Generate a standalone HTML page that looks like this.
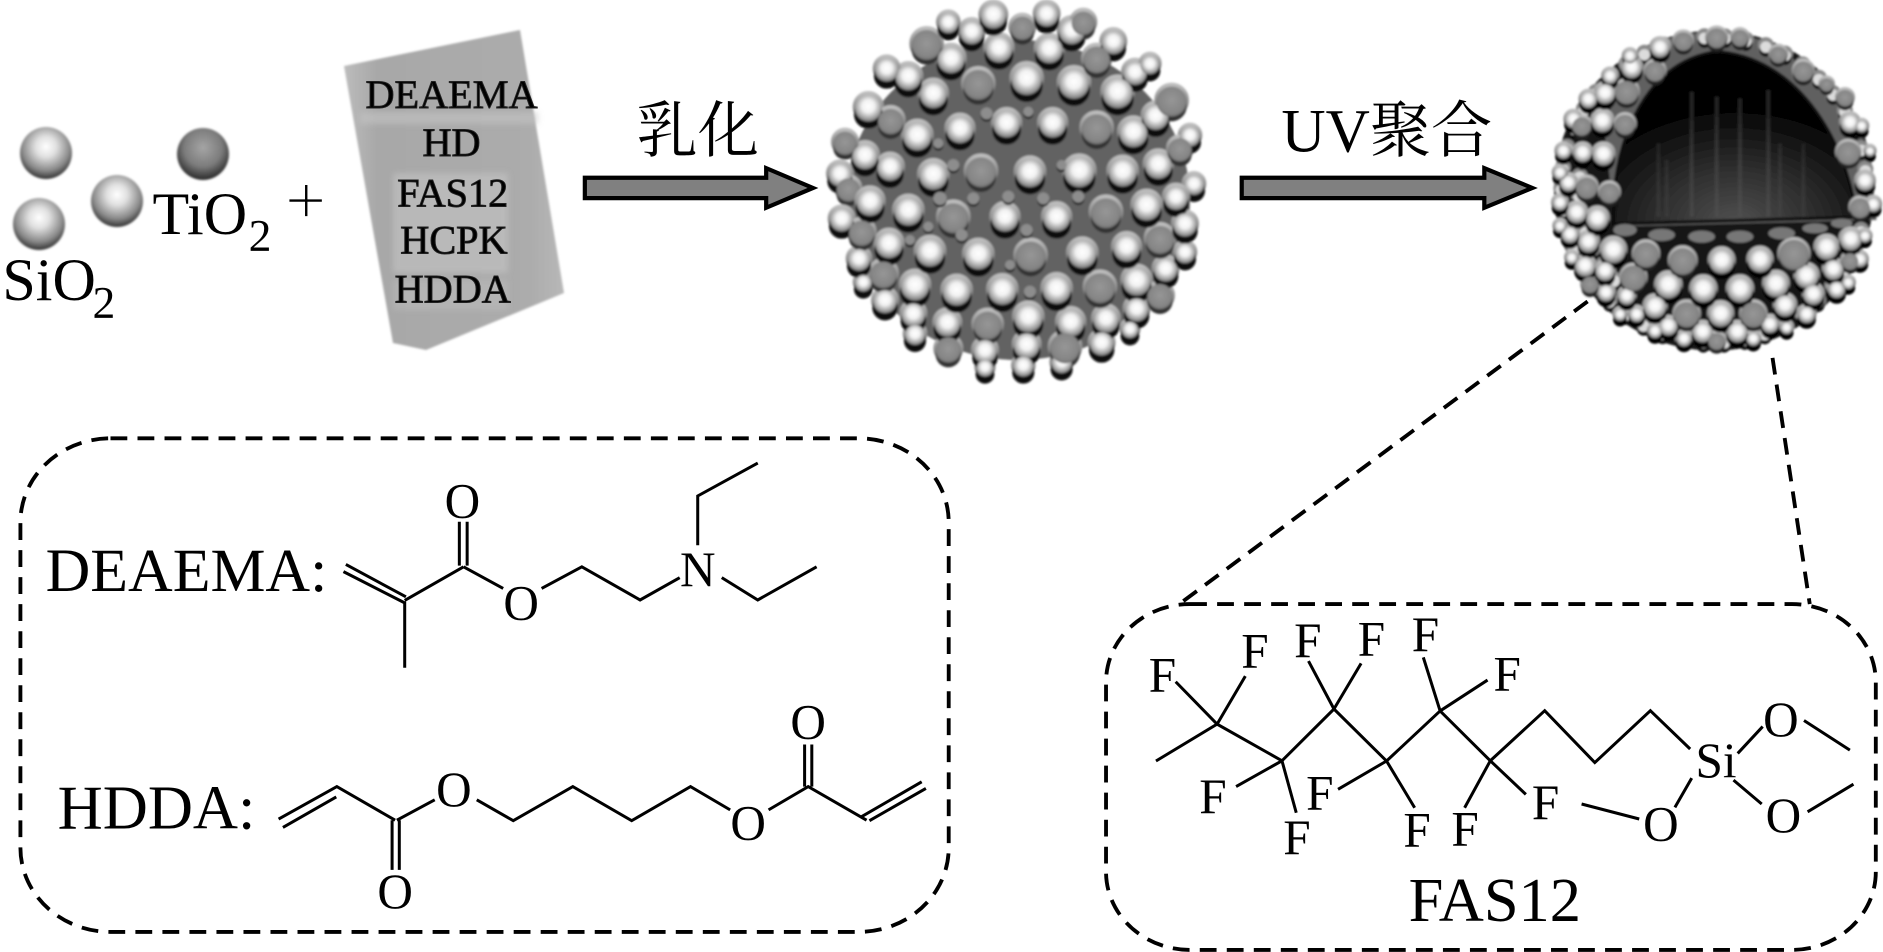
<!DOCTYPE html>
<html><head><meta charset="utf-8"><style>
html,body{margin:0;padding:0;background:#fff;width:1883px;height:952px;overflow:hidden}
svg{display:block}
text{font-family:"Liberation Serif","Noto Serif CJK SC",serif;fill:#000}
.m{fill:none;stroke:#000;stroke-width:2.5;stroke-linejoin:miter}
.d{fill:none;stroke:#000;stroke-width:3.2;stroke-dasharray:14 8.500}
.a{font-size:41px;text-anchor:middle}
.b{font-size:33.500px;text-anchor:middle;stroke:#222;stroke-width:.8}
</style></head><body>
<svg width="1883" height="952" viewBox="0 0 1883 952" xmlns="http://www.w3.org/2000/svg">
<defs>
<radialGradient id="bb" cx=".5" cy=".42" r=".58"><stop offset="0" stop-color="#fff"/><stop offset=".4" stop-color="#f2f2f2"/><stop offset=".75" stop-color="#adadad"/><stop offset="1" stop-color="#747474"/></radialGradient>
<radialGradient id="gb" cx=".5" cy=".45" r=".55"><stop offset="0" stop-color="#969696"/><stop offset=".8" stop-color="#858585"/><stop offset="1" stop-color="#6e6e6e"/></radialGradient>
<linearGradient id="ha" x1="0" y1="0" x2="0" y2="1"><stop offset="0" stop-color="#bdbdbd"/><stop offset=".6" stop-color="#8a8a8a"/><stop offset="1" stop-color="#555"/></linearGradient>
<radialGradient id="sb" cx=".5" cy=".38" r=".66"><stop offset="0" stop-color="#fff"/><stop offset=".3" stop-color="#e0e0e0"/><stop offset=".7" stop-color="#888"/><stop offset="1" stop-color="#1c1c1c"/></radialGradient>
<radialGradient id="sc" cx=".5" cy=".38" r=".66"><stop offset="0" stop-color="#a5a5a5"/><stop offset=".55" stop-color="#7c7c7c"/><stop offset="1" stop-color="#1c1c1c"/></radialGradient>
<radialGradient id="in" cx=".5" cy="1" r=".9"><stop offset="0" stop-color="#505050"/><stop offset=".4" stop-color="#2a2a2a"/><stop offset=".72" stop-color="#060606"/><stop offset="1" stop-color="#000"/></radialGradient>
<linearGradient id="bo" x1="0" y1="0" x2="1" y2="0"><stop offset="0" stop-color="#bcbcbc"/><stop offset=".15" stop-color="#a8a8a8"/><stop offset=".85" stop-color="#acacac"/><stop offset="1" stop-color="#b8b8b8"/></linearGradient>
<filter id="f" x="-5%" y="-5%" width="110%" height="110%"><feGaussianBlur stdDeviation="1.1"/></filter>
<filter id="f2" x="-5%" y="-5%" width="110%" height="110%"><feGaussianBlur stdDeviation="3"/></filter>

<g id="A1">
<circle cx="455" cy="68" r="35"/><circle cx="537" cy="118" r="40"/><circle cx="688" cy="120" r="40"/><circle cx="520" cy="18" r="38"/><circle cx="680" cy="15" r="35"/><circle cx="755" cy="65" r="38"/><circle cx="393" cy="150" r="40"/><circle cx="265" cy="203" r="38"/><circle cx="200" cy="180" r="35"/><circle cx="340" cy="255" r="40"/><circle cx="620" cy="210" r="45"/><circle cx="762" cy="222" r="45"/><circle cx="893" cy="250" r="45"/><circle cx="945" cy="190" r="35"/><circle cx="990" cy="165" r="28"/><circle cx="880" cy="98" r="35"/><circle cx="145" cy="295" r="40"/><circle cx="560" cy="343" r="40"/><circle cx="698" cy="343" r="40"/><circle cx="420" cy="360" r="40"/><circle cx="292" cy="380" r="42"/><circle cx="940" cy="370" r="42"/><circle cx="1007" cy="322" r="38"/><circle cx="135" cy="440" r="38"/><circle cx="210" cy="475" r="38"/><circle cx="340" cy="498" r="42"/><circle cx="630" cy="490" r="42"/><circle cx="778" cy="487" r="45"/><circle cx="908" cy="488" r="42"/><circle cx="1015" cy="467" r="40"/><circle cx="1122" cy="525" r="30"/><circle cx="60" cy="495" r="35"/><circle cx="385" cy="40" r="30"/><circle cx="1110" cy="380" r="30"/>
</g>
<g id="A2">
<circle cx="607" cy="55" r="35"/><circle cx="320" cy="105" r="45"/><circle cx="475" cy="225" r="45"/><circle cx="830" cy="150" r="40"/><circle cx="212" cy="335" r="38"/><circle cx="830" cy="358" r="45"/><circle cx="483" cy="487" r="45"/><circle cx="75" cy="400" r="35"/><circle cx="790" cy="40" r="35"/><circle cx="1055" cy="275" r="45"/><circle cx="1080" cy="420" r="35"/><circle cx="85" cy="540" r="35"/>
</g>
<g id="A3">
<circle cx="500" cy="310" r="18"/><circle cx="625" cy="305" r="15"/><circle cx="400" cy="465" r="18"/><circle cx="725" cy="465" r="15"/><circle cx="355" cy="400" r="15"/>
</g>
<g id="B1">
<circle cx="150" cy="38" r="40"/><circle cx="265" cy="65" r="42"/><circle cx="555" cy="85" r="40"/><circle cx="710" cy="85" r="40"/><circle cx="980" cy="50" r="42"/><circle cx="1068" cy="25" r="35"/><circle cx="65" cy="90" r="35"/><circle cx="1095" cy="105" r="35"/><circle cx="207" cy="165" r="40"/><circle cx="330" cy="188" r="42"/><circle cx="475" cy="197" r="42"/><circle cx="787" cy="193" r="42"/><circle cx="920" cy="175" r="40"/><circle cx="1095" cy="190" r="30"/><circle cx="117" cy="210" r="33"/><circle cx="285" cy="290" r="42"/><circle cx="410" cy="305" r="42"/><circle cx="547" cy="303" r="42"/><circle cx="710" cy="300" r="42"/><circle cx="950" cy="275" r="42"/><circle cx="1037" cy="240" r="35"/><circle cx="130" cy="280" r="25"/><circle cx="195" cy="335" r="35"/><circle cx="280" cy="375" r="35"/><circle cx="382" cy="402" r="38"/><circle cx="625" cy="385" r="42"/><circle cx="752" cy="400" r="40"/><circle cx="858" cy="390" r="38"/><circle cx="950" cy="360" r="35"/><circle cx="285" cy="435" r="30"/><circle cx="495" cy="485" r="35"/><circle cx="620" cy="468" r="38"/><circle cx="845" cy="462" r="35"/><circle cx="930" cy="420" r="25"/><circle cx="610" cy="530" r="30"/><circle cx="725" cy="520" r="30"/><circle cx="495" cy="535" r="25"/>
</g>
<g id="B2">
<circle cx="400" cy="85" r="45"/><circle cx="858" cy="70" r="45"/><circle cx="125" cy="130" r="38"/><circle cx="1020" cy="150" r="42"/><circle cx="632" cy="200" r="45"/><circle cx="190" cy="255" r="40"/><circle cx="840" cy="295" r="45"/><circle cx="1020" cy="320" r="38"/><circle cx="503" cy="407" r="42"/><circle cx="385" cy="480" r="38"/><circle cx="735" cy="475" r="45"/>
</g>
<g id="B3">
<circle cx="460" cy="25" r="18"/><circle cx="565" cy="20" r="18"/><circle cx="670" cy="25" r="18"/><circle cx="775" cy="20" r="18"/><circle cx="360" cy="25" r="20"/><circle cx="325" cy="110" r="15"/><circle cx="620" cy="120" r="18"/><circle cx="425" cy="135" r="18"/><circle cx="570" cy="225" r="15"/><circle cx="630" cy="305" r="18"/><circle cx="270" cy="150" r="15"/>
</g>
<g id="C1">
<circle cx="275" cy="145" r="30"/><circle cx="210" cy="170" r="22"/><circle cx="195" cy="222" r="30"/><circle cx="145" cy="240" r="25"/><circle cx="187" cy="305" r="32"/><circle cx="100" cy="300" r="25"/><circle cx="190" cy="405" r="32"/><circle cx="128" cy="400" r="27"/><circle cx="70" cy="395" r="22"/><circle cx="85" cy="490" r="25"/><circle cx="60" cy="460" r="20"/><circle cx="110" cy="580" r="30"/><circle cx="60" cy="550" r="22"/><circle cx="172" cy="598" r="33"/><circle cx="145" cy="668" r="30"/><circle cx="90" cy="645" r="25"/><circle cx="60" cy="620" r="18"/><circle cx="220" cy="693" r="37"/><circle cx="135" cy="740" r="30"/><circle cx="195" cy="755" r="28"/><circle cx="95" cy="715" r="18"/><circle cx="545" cy="725" r="37"/><circle cx="660" cy="722" r="36"/><circle cx="860" cy="685" r="35"/><circle cx="932" cy="660" r="32"/><circle cx="800" cy="770" r="35"/><circle cx="880" cy="750" r="30"/><circle cx="385" cy="798" r="38"/><circle cx="490" cy="810" r="38"/><circle cx="600" cy="810" r="38"/><circle cx="708" cy="795" r="37"/><circle cx="345" cy="862" r="33"/><circle cx="542" cy="885" r="36"/><circle cx="735" cy="858" r="32"/><circle cx="820" cy="825" r="30"/><circle cx="890" cy="810" r="25"/><circle cx="198" cy="820" r="25"/><circle cx="260" cy="830" r="25"/><circle cx="800" cy="885" r="25"/><circle cx="240" cy="885" r="18"/><circle cx="290" cy="885" r="22"/><circle cx="385" cy="920" r="27"/><circle cx="488" cy="938" r="30"/><circle cx="592" cy="938" r="30"/><circle cx="432" cy="958" r="22"/><circle cx="640" cy="958" r="20"/><circle cx="690" cy="915" r="25"/><circle cx="740" cy="925" r="18"/><circle cx="930" cy="310" r="28"/><circle cx="975" cy="485" r="28"/><circle cx="1000" cy="555" r="22"/><circle cx="975" cy="650" r="18"/><circle cx="965" cy="320" r="18"/><circle cx="990" cy="395" r="15"/><circle cx="360" cy="85" r="28"/><circle cx="270" cy="110" r="20"/><circle cx="960" cy="720" r="22"/><circle cx="925" cy="790" r="18"/><circle cx="345" cy="935" r="20"/>
</g>
<g id="C2">
<circle cx="260" cy="218" r="35"/><circle cx="255" cy="315" r="30"/><circle cx="125" cy="320" r="28"/><circle cx="140" cy="505" r="32"/><circle cx="208" cy="520" r="30"/><circle cx="318" cy="705" r="38"/><circle cx="428" cy="725" r="40"/><circle cx="762" cy="705" r="45"/><circle cx="280" cy="775" r="38"/><circle cx="440" cy="885" r="38"/><circle cx="640" cy="885" r="38"/><circle cx="345" cy="155" r="30"/><circle cx="925" cy="400" r="35"/><circle cx="960" cy="565" r="30"/><circle cx="930" cy="725" r="25"/><circle cx="530" cy="965" r="25"/><circle cx="150" cy="795" r="25"/><circle cx="430" cy="65" r="28"/><circle cx="530" cy="55" r="30"/><circle cx="600" cy="55" r="25"/><circle cx="715" cy="105" r="25"/><circle cx="790" cy="155" r="30"/><circle cx="915" cy="235" r="25"/><circle cx="860" cy="195" r="20"/>
</g>
</defs>

<!-- big sphere -->
<g filter="url(#f)">
<ellipse cx="1018" cy="200" rx="172" ry="160" fill="#626262"/>
<g transform="translate(820,10) scale(.3333)">
<use href="#A1" y="-5" fill="url(#ha)" stroke="url(#ha)" stroke-width="14"/>
<use href="#A2" y="-5" fill="url(#ha)" stroke="url(#ha)" stroke-width="14"/>
<use href="#A1" y="18" fill="#0a0a0a" stroke="#0a0a0a" stroke-width="6"/>
<use href="#A2" y="14" fill="#333"/>
<use href="#A3" y="7" fill="#222"/>
<use href="#A1" fill="url(#bb)"/>
<use href="#A2" fill="url(#gb)"/>
<use href="#A3" fill="#8d8d8d"/>
</g>
<g transform="translate(820,190) scale(.3333)">
<use href="#B1" y="-5" fill="url(#ha)" stroke="url(#ha)" stroke-width="14"/>
<use href="#B2" y="-5" fill="url(#ha)" stroke="url(#ha)" stroke-width="14"/>
<use href="#B1" y="18" fill="#0a0a0a" stroke="#0a0a0a" stroke-width="6"/>
<use href="#B2" y="14" fill="#333"/>
<use href="#B3" y="7" fill="#222"/>
<use href="#B1" fill="url(#bb)"/>
<use href="#B2" fill="url(#gb)"/>
<use href="#B3" fill="#8d8d8d"/>
</g>
</g>

<!-- small spheres -->
<g filter="url(#f)">
<circle cx="46" cy="153" r="26" fill="url(#sb)"/>
<circle cx="203" cy="154" r="26" fill="url(#sc)"/>
<circle cx="117" cy="201" r="26" fill="url(#sb)"/>
<circle cx="39" cy="224" r="26" fill="url(#sb)"/>
</g>

<!-- bottle -->
<polygon points="344,66 520,30 564,293 426,350 393,343" fill="url(#bo)" filter="url(#f)"/>
<g fill="#c6c6c6" opacity=".55" filter="url(#f2)">
<rect x="360" y="112" width="178" height="12"/><rect x="393" y="173" width="115" height="100"/><rect x="393" y="280" width="115" height="30" opacity=".6"/>
</g>

<!-- hemisphere -->
<g filter="url(#f)">
<g transform="translate(1540,20) scale(.3333)">
<circle cx="522" cy="512" r="480" fill="#141414"/>
<path d="M340,70 Q520,0 720,80 L960,300 L1010,600 L225,620 L190,300Z" fill="#606060"/>
<path d="M222,612 C210,400 300,125 530,95 C760,110 915,340 950,592 Z" fill="url(#in)" stroke="#0c0c0c" stroke-width="10"/>
<g stroke="#5a5a5a" stroke-width="12" opacity=".35">
<path d="M455,215V590M530,230V590M600,235V590M685,210V590"/>
<path d="M355,370V590M720,370V590M790,370V590M380,420V590" opacity=".6"/>
</g>
<g fill="none" stroke-linecap="round" stroke-dasharray="0 62.600">
<circle cx="522" cy="506" r="458" stroke="#8a8a8a" stroke-width="48"/>
<circle cx="522" cy="522" r="458" stroke="#0a0a0a" stroke-width="38"/>
<circle cx="522" cy="512" r="458" stroke="#dcdcdc" stroke-width="34"/>
</g>
<g fill="none" stroke-linecap="round" stroke-dasharray="0 56">
<path transform="translate(0,-4)" d="M261.700,822A405,405 0 0 1 141.400,373.500" stroke="#8a8a8a" stroke-width="50"/>
<path transform="translate(0,12)" d="M261.700,822A405,405 0 0 1 141.400,373.500" stroke="#0a0a0a" stroke-width="40"/>
<path d="M261.700,822A405,405 0 0 1 141.400,373.500" stroke="#dcdcdc" stroke-width="36"/>
</g>
<use href="#C1" y="-4" fill="url(#ha)" stroke="url(#ha)" stroke-width="10"/>
<use href="#C2" y="-4" fill="url(#ha)" stroke="url(#ha)" stroke-width="10"/>
<use href="#C1" y="14" fill="#060606" stroke="#060606" stroke-width="5"/>
<use href="#C2" y="11" fill="#222"/>
<use href="#C1" fill="url(#bb)"/>
<use href="#C2" fill="url(#gb)"/>
<g fill="#777">
<ellipse cx="255" cy="630" rx="35" ry="18"/><ellipse cx="365" cy="645" rx="40" ry="18"/><ellipse cx="485" cy="650" rx="40" ry="18"/><ellipse cx="600" cy="650" rx="40" ry="18"/><ellipse cx="725" cy="640" rx="40" ry="18"/><ellipse cx="825" cy="625" rx="38" ry="15"/><ellipse cx="905" cy="610" rx="32" ry="14"/>
</g>
</g>
</g>

<!-- diagram layer -->
<g transform="scale(1.2009)">
<text x="127" y="195" font-size="50">TiO</text><text x="207" y="209" font-size="38">2</text>
<text x="2" y="250" font-size="50">SiO</text><text x="77" y="265" font-size="38">2</text>
<path d="M241,167H268M255,154V180" stroke="#000" stroke-width="2" fill="none"/>

<text class="b" x="376" y="90">DEAEMA</text>
<text class="b" x="376" y="130">HD</text>
<text class="b" x="377" y="172">FAS12</text>
<text class="b" x="378" y="211">HCPK</text>
<text class="b" x="377" y="252">HDDA</text>

<polygon points="487,148 638,148 638,140 677,156.500 638,173 638,165 487,165" fill="#808080" stroke="#000" stroke-width="3.500"/>
<polygon points="1034,148 1236,148 1236,140 1276,156.500 1236,173 1236,165 1034,165" fill="#808080" stroke="#000" stroke-width="3.500"/>
<text x="530" y="126" font-size="51">乳化</text>
<text x="1067" y="126" font-size="51">UV聚合</text>

<path class="d" d="M1322,251L982,503"/>
<path class="d" d="M1476,298L1507,503"/>
<rect class="d" x="17" y="365" width="773" height="411" rx="75" ry="70"/>
<rect class="d" x="921" y="503" width="641" height="288" rx="70" ry="65"/>

<text x="38" y="492" font-size="51.500">DEAEMA:</text>
<text x="48" y="690" font-size="52">HDDA:</text>
<text x="1173" y="767" font-size="52">FAS12</text>

<g class="m">
<path d="M288,470L338,497M286,476L337,502M337,501V556M337,500L386,472M382.500,471V434.500M389,471V434.500M386,472L419,490M451,490L484.500,472L533,499.600L566,481M581,454V413L631,385.600M601,481L631,499.600L680,472"/>
<path d="M232,682L280.500,655L329,683M235.600,689L280,663.600M326.500,683V724.400M332.500,683V724.400M330.500,683L362,666M397,666L427.400,683.400L477,655L526,683.400L575,655L608,674.400M640,674.400L673,655L721.600,683M670,655V620M676,655V620M716.500,680.600L767.500,651M724,683.400L771,656.500"/>
<path d="M962.600,633.700L1013.500,603L1067.500,633.500L1110.800,590.400L1154.600,633.700L1199.200,592L1241,633.500L1286.300,591.800L1328,635L1374.300,591.800L1407.400,623.700"/>
<path d="M1013.500,603L979,567.700M1013.500,603L1037,563M1110.800,590.400L1089.600,550.500M1110.800,590.400L1133.400,552.400M1199.200,592L1185.200,547.400M1199.200,592L1238.700,566.300M1067.500,633.500L1029.300,655M1067.500,633.500L1079.400,676.800M1154.600,633.700L1114.200,657.300M1154.600,633.700L1178,672.600M1241,633.500L1219.600,672.600M1241,633.500L1270.600,661.500"/>
<path d="M1447,627.400L1467.800,605M1443.500,649.600L1467,669.500M1408.700,648L1394.700,672.300M1502.200,600L1540.400,624.600M1505.200,676L1543.400,653M1365,682L1317,669.500"/>
</g>

<text class="a" x="385" y="431">O</text>
<text class="a" x="434" y="516">O</text>
<text class="a" x="581" y="488">N</text>
<text class="a" x="329" y="756">O</text>
<text class="a" x="378" y="671">O</text>
<text class="a" x="623" y="699">O</text>
<text class="a" x="673" y="615">O</text>

<text class="a" x="968" y="576">F</text><text class="a" x="1045" y="556">F</text><text class="a" x="1089" y="547">F</text><text class="a" x="1142" y="546">F</text><text class="a" x="1187" y="542">F</text><text class="a" x="1255" y="575">F</text>
<text class="a" x="1010" y="677">F</text><text class="a" x="1099" y="674">F</text><text class="a" x="1080" y="711">F</text><text class="a" x="1180" y="705">F</text><text class="a" x="1220" y="704">F</text><text class="a" x="1287" y="682">F</text>
<text class="a" x="1429" y="647">Si</text>
<text class="a" x="1483" y="613">O</text><text class="a" x="1485" y="693">O</text><text class="a" x="1383" y="700">O</text>
</g>
</svg>
</body></html>
